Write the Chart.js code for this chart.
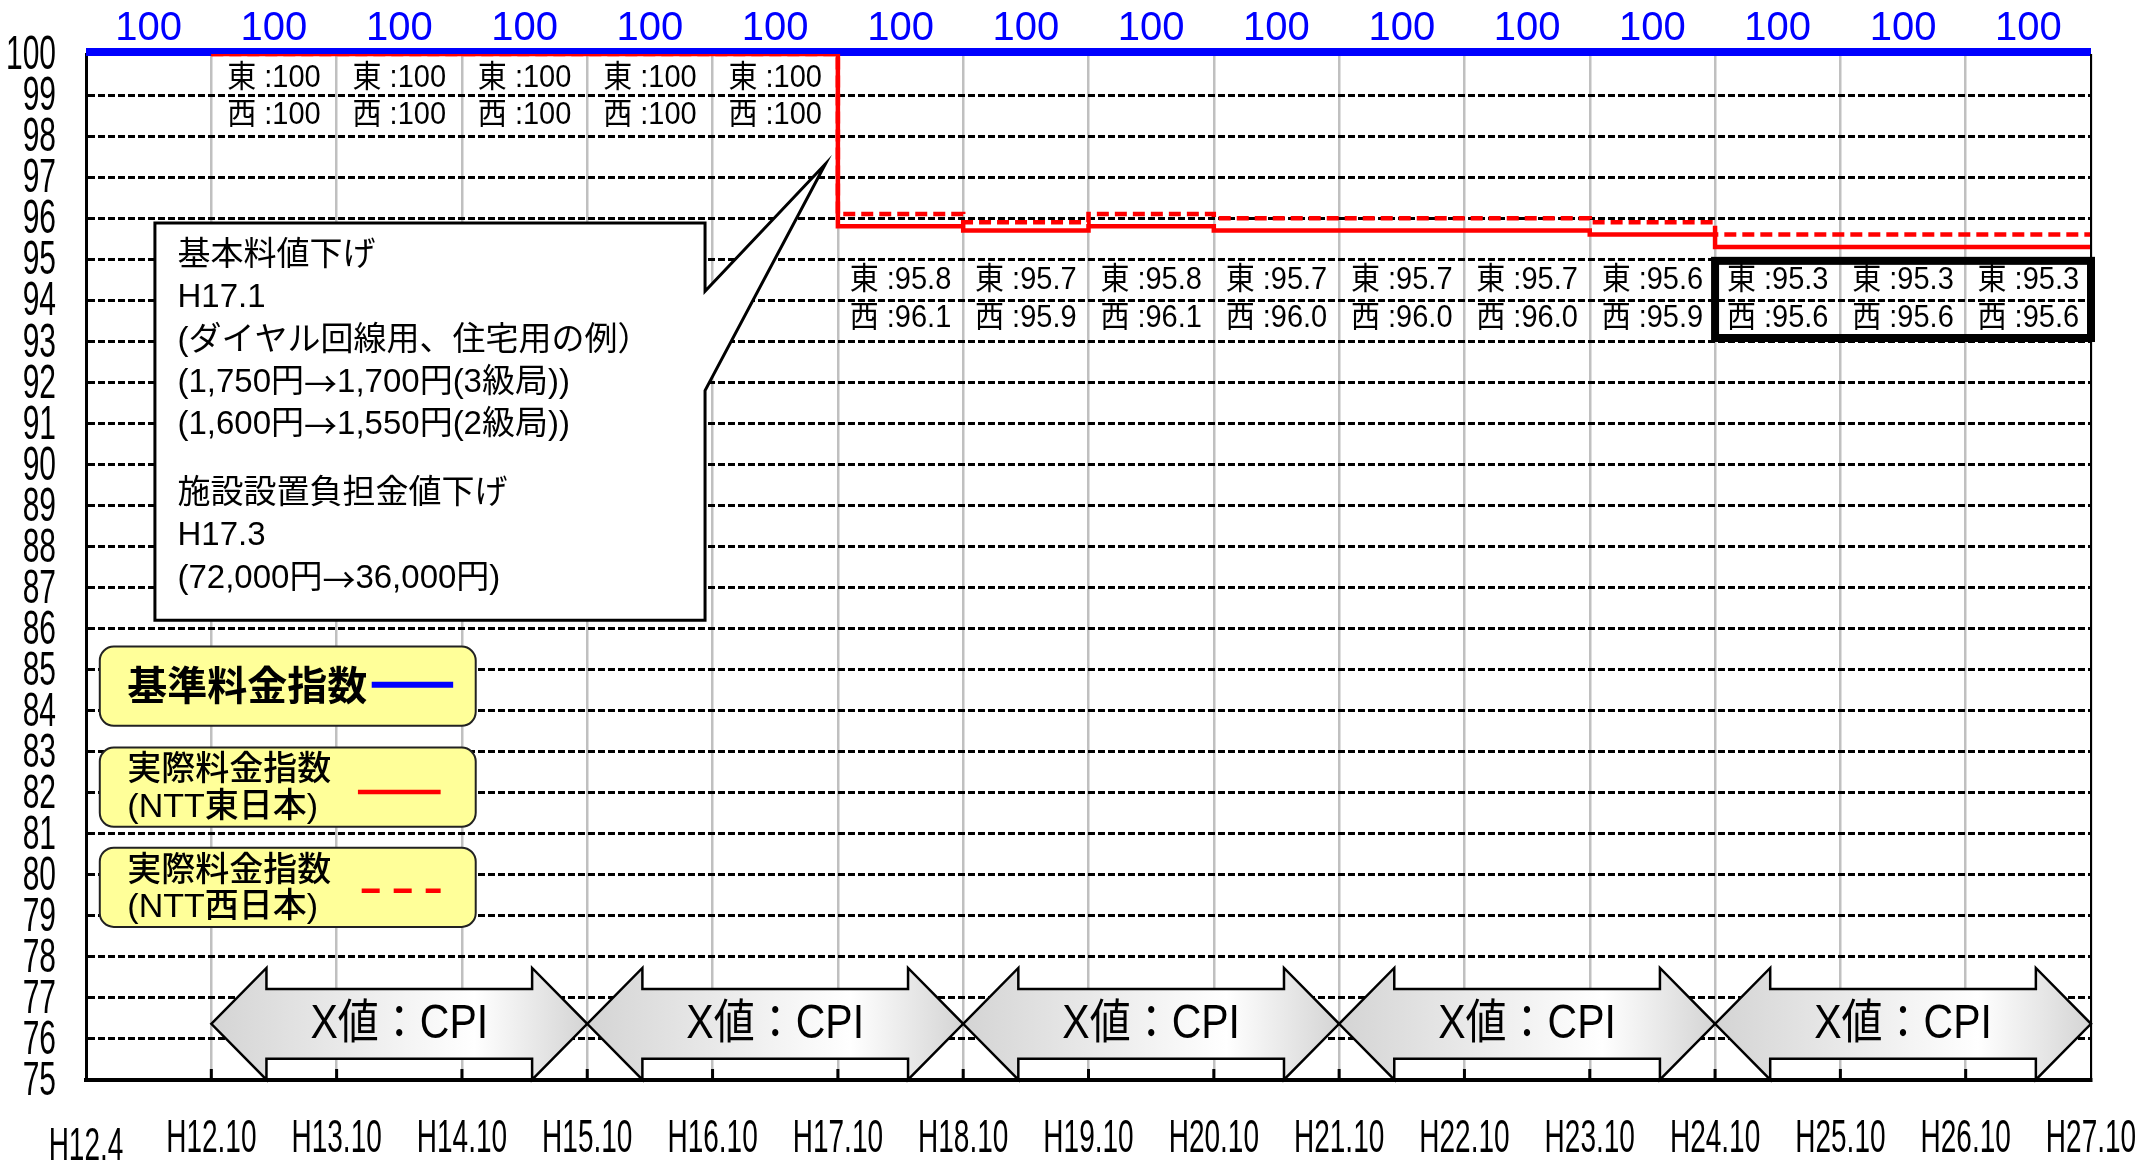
<!DOCTYPE html>
<html lang="ja">
<head>
<meta charset="utf-8">
<title>基準料金指数と実際料金指数</title>
<script src="https://cdn.jsdelivr.net/npm/chart.js@4.4.1/dist/chart.umd.min.js"></script>
<style>
  html, body { margin: 0; padding: 0; background: #fff; }
  #wrap { width: 2145px; height: 1168px; position: relative; }
</style>
</head>
<body>
<div id="wrap"><canvas id="rateChart"></canvas></div>
<script>
// period boundaries (x axis), one value per period in between
const periods = ['H12.4', 'H12.10', 'H13.10', 'H14.10', 'H15.10', 'H16.10', 'H17.10', 'H18.10',
                 'H19.10', 'H20.10', 'H21.10', 'H22.10', 'H23.10', 'H24.10', 'H25.10', 'H26.10', 'H27.10'];
const baseIndex = [100, 100, 100, 100, 100, 100, 100, 100, 100, 100, 100, 100, 100, 100, 100, 100];
const eastIndex = [null, 100, 100, 100, 100, 100, 95.8, 95.7, 95.8, 95.7, 95.7, 95.7, 95.6, 95.3, 95.3, 95.3];
const westIndex = [null, 100, 100, 100, 100, 100, 96.1, 95.9, 96.1, 96.0, 96.0, 96.0, 95.9, 95.6, 95.6, 95.6];
const cpiSpans = [[1, 4], [4, 7], [7, 10], [10, 13], [13, 16]];
const noteLines = ['基本料値下げ', 'H17.1', '(ダイヤル回線用、住宅用の例）', '(1,750円→1,700円(3級局))',
                   '(1,600円→1,550円(2級局))', '施設設置負担金値下げ', 'H17.3', '(72,000円→36,000円)'];

const FONT = "'Liberation Sans', 'Noto Sans CJK JP', sans-serif";
const CJK = "'Noto Sans CJK JP', sans-serif";

// step line needs one extra point at the right edge
const toStep = arr => arr.concat([arr[arr.length - 1]]);

function stretchText(ctx, text, x, y, font, sy, align, color) {
    ctx.save();
    ctx.font = font;
    ctx.fillStyle = color || '#000';
    ctx.textAlign = align || 'center';
    ctx.textBaseline = 'middle';
    ctx.translate(x, y);
    ctx.scale(1, sy);
    ctx.fillText(text, 0, 0);
    ctx.restore();
}

// left aligned text, arrows taken from the CJK font so they come out full width
function noteText(ctx, text, x, y, size) {
    ctx.save();
    ctx.fillStyle = '#000';
    ctx.textAlign = 'left';
    ctx.textBaseline = 'middle';
    let cx = x;
    text.split(/(→)/).forEach(part => {
        if (!part) return;
        ctx.font = size + 'px ' + (part === '→' ? CJK : FONT);
        ctx.fillText(part, cx, y);
        cx += ctx.measureText(part).width;
    });
    ctx.restore();
}

function fmt(v) {
    return v === 100 ? '100' : v.toFixed(1);
}

const decorations = {
    id: 'decorations',
    beforeDatasetDraw(chart, args) {
        if (args.index === 0) {          // base line sits just above the actual-rate lines
            chart.ctx.save();
            chart.ctx.translate(0, -2);
        }
    },
    afterDatasetDraw(chart, args) {
        if (args.index === 0) chart.ctx.restore();
    },
    beforeDatasetsDraw(chart) {
        const ctx = chart.ctx;
        const xs = chart.scales.x, ys = chart.scales.y;
        const X = i => xs.getPixelForValue(i);
        const Y = v => ys.getPixelForValue(v);
        const unit = Y(75) - Y(76);
        const step = X(1) - X(0);
        const yc = Y(76.37), headH = 1.36 * unit, shaftH = 0.85 * unit, headLen = 0.44 * step;

        cpiSpans.forEach(([a, b]) => {
            const x0 = X(a), x1 = X(b);
            ctx.save();
            ctx.beginPath();
            ctx.moveTo(x0, yc);
            ctx.lineTo(x0 + headLen, yc - headH);
            ctx.lineTo(x0 + headLen, yc - shaftH);
            ctx.lineTo(x1 - headLen, yc - shaftH);
            ctx.lineTo(x1 - headLen, yc - headH);
            ctx.lineTo(x1, yc);
            ctx.lineTo(x1 - headLen, yc + headH);
            ctx.lineTo(x1 - headLen, yc + shaftH);
            ctx.lineTo(x0 + headLen, yc + shaftH);
            ctx.lineTo(x0 + headLen, yc + headH);
            ctx.closePath();
            const g = ctx.createLinearGradient(x0, 0, x1, 0);
            g.addColorStop(0, '#d4d4d4');
            g.addColorStop(0.7, '#ffffff');
            g.addColorStop(1, '#d4d4d4');
            ctx.fillStyle = g;
            ctx.fill();
            ctx.lineWidth = 2.5;
            ctx.strokeStyle = '#000';
            ctx.stroke();
            ctx.restore();
            stretchText(ctx, 'X値：CPI', (x0 + x1) / 2, yc + 1, '41px ' + FONT, 1.15, 'center');
        });

        // small ticks on the bottom axis
        ctx.save();
        ctx.strokeStyle = '#000';
        ctx.lineWidth = 3;
        for (let i = 1; i < periods.length - 1; i++) {
            ctx.beginPath();
            ctx.moveTo(X(i), chart.chartArea.bottom - 11);
            ctx.lineTo(X(i), chart.chartArea.bottom);
            ctx.stroke();
        }
        ctx.restore();
    },
    afterDatasetsDraw(chart) {
        const ctx = chart.ctx;
        const xs = chart.scales.x, ys = chart.scales.y;
        const X = i => xs.getPixelForValue(i);
        const Y = v => ys.getPixelForValue(v);
        const area = chart.chartArea;

        // right frame
        ctx.save();
        ctx.strokeStyle = '#000';
        ctx.lineWidth = 2;
        ctx.beginPath();
        ctx.moveTo(area.right, area.top);
        ctx.lineTo(area.right, area.bottom);
        ctx.stroke();
        ctx.restore();

        // east / west value labels
        eastIndex.forEach((e, i) => {
            if (e === null) return;
            const w = westIndex[i];
            const cx = X(i + 0.5);
            const rows = e === 100 ? [99.41, 98.5] : [94.49, 93.56];
            stretchText(ctx, '東 :' + fmt(e), cx, Y(rows[0]), '29px ' + FONT, 1.07, 'center');
            stretchText(ctx, '西 :' + fmt(w), cx, Y(rows[1]), '29px ' + FONT, 1.07, 'center');
        });

        // emphasis frame on the last three periods
        ctx.save();
        ctx.strokeStyle = '#000';
        ctx.lineWidth = 8;
        ctx.strokeRect(X(13), Y(94.96), X(16) - X(13), Y(93.08) - Y(94.96));
        ctx.restore();

        // callout
        const L = X(0.55), R = X(4.94), T = Y(95.88), B = Y(86.2);
        ctx.save();
        ctx.beginPath();
        ctx.moveTo(L, T);
        ctx.lineTo(R, T);
        ctx.lineTo(R, Y(94.22));
        ctx.lineTo(X(5.9), Y(97.32));
        ctx.lineTo(R, Y(91.8));
        ctx.lineTo(R, B);
        ctx.lineTo(L, B);
        ctx.closePath();
        ctx.fillStyle = '#fff';
        ctx.fill();
        ctx.lineWidth = 3;
        ctx.strokeStyle = '#000';
        ctx.stroke();
        ctx.restore();
        const noteOffsets = [33, 75, 118, 160, 202, 271, 313, 356];
        noteLines.forEach((t, k) => noteText(ctx, t, X(0.73), T + noteOffsets[k], 33));

        // legend boxes
        const boxes = [
            { top: 85.56, bottom: 83.63, lines: [['基準料金指数', 84.63, 'bold 40px', CJK]],
              sample: { y: 84.63, x0: 2.28, x1: 2.93, color: '#0000ff', width: 6, dash: [] } },
            { top: 83.1, bottom: 81.17, lines: [['実際料金指数', 82.63, '500 34px', CJK], ['(NTT東日本)', 81.63, '500 34px', FONT]],
              sample: { y: 82.02, x0: 2.17, x1: 2.83, color: '#ff0000', width: 4.5, dash: [] } },
            { top: 80.66, bottom: 78.73, lines: [['実際料金指数', 80.17, '500 34px', CJK], ['(NTT西日本)', 79.2, '500 34px', FONT]],
              sample: { y: 79.61, x0: 2.2, x1: 2.83, color: '#ff0000', width: 4.5, dash: [18, 14] } }
        ];
        boxes.forEach(b => {
            ctx.save();
            ctx.beginPath();
            ctx.roundRect(X(0.11), Y(b.top), X(3.11) - X(0.11), Y(b.bottom) - Y(b.top), 14);
            ctx.fillStyle = '#ffff99';
            ctx.fill();
            ctx.lineWidth = 2;
            ctx.strokeStyle = '#222';
            ctx.stroke();
            ctx.restore();
            b.lines.forEach(([t, v, f, fam]) => stretchText(ctx, t, X(0.33), Y(v), f + ' ' + fam, 1, 'left'));
            const s = b.sample;
            ctx.save();
            ctx.strokeStyle = s.color;
            ctx.lineWidth = s.width;
            ctx.setLineDash(s.dash);
            ctx.beginPath();
            ctx.moveTo(X(s.x0), Y(s.y));
            ctx.lineTo(X(s.x1), Y(s.y));
            ctx.stroke();
            ctx.restore();
        });
    },
    afterDraw(chart) {
        const ctx = chart.ctx;
        const xs = chart.scales.x, ys = chart.scales.y;
        ys.ticks.forEach(t => {
            stretchText(ctx, String(t.value), 56, ys.getPixelForValue(t.value) + 2, '30px ' + FONT, 1.6, 'right');
        });
        periods.forEach((p, i) => {
            const yy = i === 0 ? 1147 : 1139;
            stretchText(ctx, p, xs.getPixelForValue(i), yy, '28px ' + FONT, 1.65, 'center');
        });
    }
};

const ctx = document.getElementById('rateChart').getContext('2d');
new Chart(ctx, {
    type: 'line',
    data: {
        labels: periods,
        datasets: [
            {
                label: '基準料金指数',
                data: toStep(baseIndex),
                borderColor: '#0000ff',
                borderWidth: 8,
                stepped: 'before',
                pointRadius: 0,
                clip: false,
                order: 2,
            },
            {
                label: '実際料金指数（NTT東日本）',
                data: toStep(eastIndex),
                borderColor: '#ff0000',
                borderWidth: 4.5,
                stepped: 'before',
                pointRadius: 0,
                order: 1,
            },
            {
                label: '実際料金指数（NTT西日本）',
                data: toStep(westIndex),
                borderColor: '#ff0000',
                borderWidth: 4.5,
                borderDash: [12, 6],
                stepped: 'before',
                pointRadius: 0,
                order: 0,
            },
        ],
    },
    options: {
        responsive: true,
        maintainAspectRatio: false,
        animation: false,
        layout: { padding: { right: 54 } },
        plugins: {
            legend: { display: false },
            tooltip: { enabled: false },
        },
        scales: {
            x: {
                type: 'category',
                offset: false,
                grid: { color: '#c0c0c0', lineWidth: 2.5, drawTicks: false },
                border: { color: '#000', width: 4 },
                ticks: { display: false, autoSkip: false },
                afterFit: s => { s.height = 88; },
            },
            x2: {
                type: 'category',
                position: 'top',
                labels: baseIndex.map(String),
                offset: true,
                grid: { display: false, drawTicks: false },
                border: { display: false },
                ticks: {
                    autoSkip: false,
                    maxRotation: 0,
                    color: '#0000ff',
                    padding: 1,
                    font: { family: 'Liberation Sans', size: 40 },
                },
                afterFit: s => { s.height = 54; },
            },
            y: {
                min: 75,
                max: 100,
                ticks: { stepSize: 1, display: false },
                grid: { color: '#000', lineWidth: 3, drawTicks: false },
                border: { color: '#000', width: 3, dash: [7, 3] },
                afterFit: s => { s.width = 86; },
            },
        },
    },
    plugins: [decorations],
});
</script>
</body>
</html>
